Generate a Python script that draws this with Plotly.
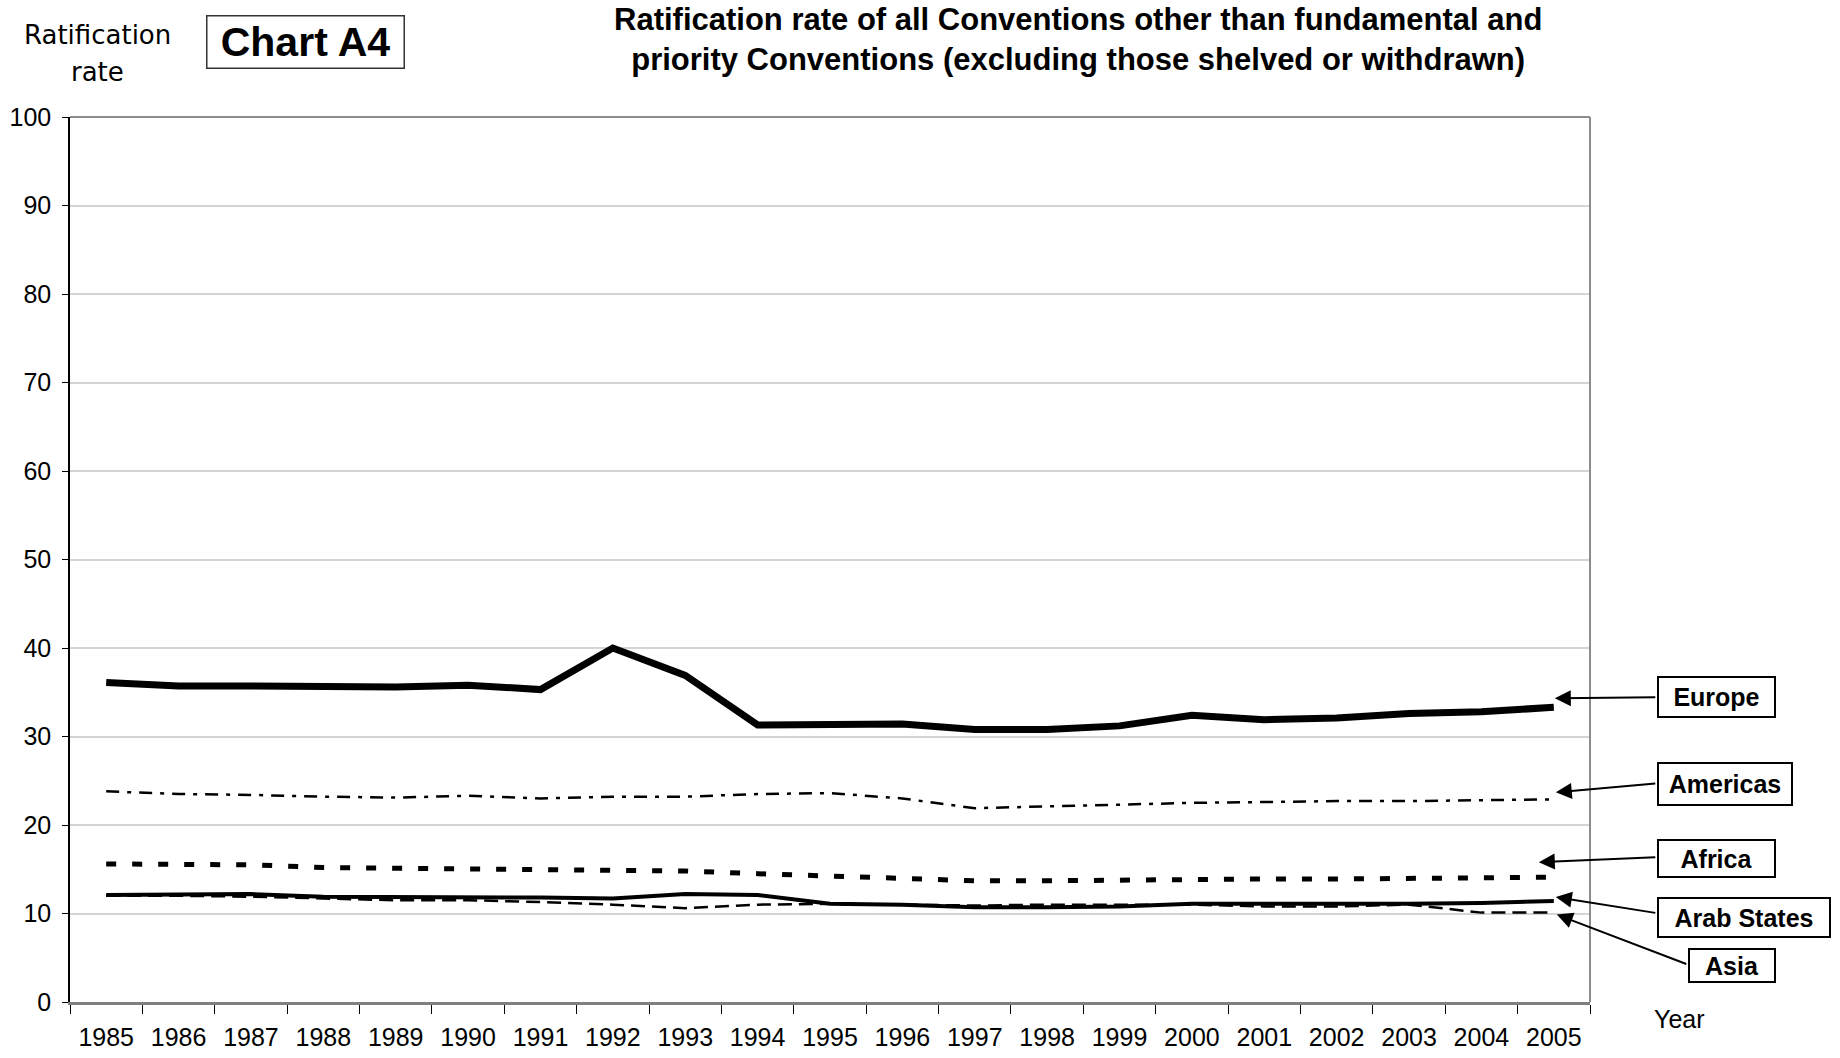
import plotly.graph_objects as go

# Ratification rate (%) by region, 1985-2005
years = list(range(1985, 2006))
europe = [36.1, 35.7, 35.7, 35.6, 35.6, 35.8, 35.3, 40.0, 36.9, 31.3, 31.3,
          31.4, 30.8, 30.8, 31.2, 32.4, 31.9, 32.1, 32.6, 32.8, 33.3]
americas = [23.8, 23.5, 23.4, 23.2, 23.1, 23.3, 23.0, 23.2, 23.2, 23.5, 23.6,
            23.0, 21.9, 22.1, 22.3, 22.5, 22.6, 22.7, 22.7, 22.8, 22.9]
africa = [15.6, 15.6, 15.5, 15.2, 15.1, 15.1, 14.9, 14.9, 14.8, 14.5, 14.2,
          13.9, 13.7, 13.7, 13.8, 13.9, 13.9, 13.9, 14.0, 14.0, 14.1]
arab_states = [12.1, 12.2, 12.2, 11.9, 11.9, 11.9, 11.8, 11.7, 12.2, 12.1, 11.1,
               11.0, 10.7, 10.7, 10.8, 11.1, 11.1, 11.0, 11.1, 11.2, 11.4]
asia = [12.0, 12.0, 11.9, 11.7, 11.5, 11.5, 11.3, 11.0, 10.6, 11.0, 11.1,
        11.0, 10.9, 11.0, 11.0, 11.0, 10.8, 10.8, 11.0, 10.1, 10.1]

y_ticks = list(range(0, 101, 10))

W, H = 1840, 1058
ML, MR, MT, MB = 70, 250, 117, 56
PW, PH = W - ML - MR, H - MT - MB

FONT = "Liberation Sans, Arial, sans-serif"


def paper(px, py):
    """Convert page pixel position to paper coordinates."""
    return (px - ML) / PW, (H - MB - py) / PH


series = [
    ("Europe", europe, dict(width=7, dash="solid")),
    ("Americas", americas, dict(width=2.5, dash="13px,8px,4px,8px")),
    ("Africa", africa, dict(width=5, dash="10px,16px")),
    ("Arab States", arab_states, dict(width=4, dash="solid")),
    ("Asia", asia, dict(width=2.5, dash="14px,7px")),
]

fig = go.Figure()
for name, vals, style in series:
    fig.add_trace(go.Scatter(
        x=years, y=vals, mode="lines", name=name, showlegend=False,
        line=dict(color="black", **style),
    ))

# label boxes on the right: (name, series values, head shift px, tail offset px, box centre, box size)
labels = [
    ("Europe", europe, (1, 9), (102, -1), (1716.5, 697), (119, 42)),
    ("Americas", americas, (2, 7), (101, -9), (1725, 784), (136, 44)),
    ("Africa", africa, (-15, 15), (118, -5), (1716.5, 858.5), (119, 39)),
    ("Arab States", arab_states, (2, 4), (101, 16), (1744, 917.5), (174, 41)),
    ("Asia", asia, (3, -2), (131, 50), (1732, 965.5), (88, 35)),
]

annotations = []
for name, vals, (xs, ys), (ax, ay), (cx, cy), (bw, bh) in labels:
    annotations.append(dict(
        x=years[-1], y=vals[-1], xref="x", yref="y", xshift=xs, yshift=ys,
        text="", showarrow=True, ax=ax, ay=ay, axref="pixel", ayref="pixel",
        arrowhead=2, arrowsize=1.6, arrowwidth=2, arrowcolor="black",
        standoff=0, startstandoff=0, font=dict(size=1),
    ))
    bx, by = paper(cx, cy)
    annotations.append(dict(
        x=bx, y=by, xref="paper", yref="paper", xanchor="center", yanchor="middle",
        text=f"<b>{name}</b>", showarrow=False, width=bw - 4, height=bh - 4,
        borderpad=0, bordercolor="black", borderwidth=2, bgcolor="white",
        font=dict(family=FONT, size=25, color="black"),
    ))

# chart heading
tx, ty = paper(1078, 39)
annotations.append(dict(
    x=tx, y=ty, xref="paper", yref="paper", xanchor="center", yanchor="middle",
    text="<b>Ratification rate of all Conventions other than fundamental and<br>"
         "priority Conventions (excluding those shelved or withdrawn)</b>",
    showarrow=False, font=dict(family=FONT, size=31, color="black"),
))

# "Chart A4" tag
cx, cy = paper(305.5, 42)
annotations.append(dict(
    x=cx, y=cy, xref="paper", yref="paper", xanchor="center", yanchor="middle",
    text="<b>Chart A4</b>", showarrow=False, width=196, height=51,
    borderpad=0, bordercolor="#333333", borderwidth=1.5, bgcolor="white",
    font=dict(family=FONT, size=41, color="black"),
))

# axis titles
for txt, (px, py) in [("Ratification", (97, 35)), ("rate", (97, 72))]:
    ax_, ay_ = paper(px, py)
    annotations.append(dict(
        x=ax_, y=ay_, xref="paper", yref="paper", xanchor="center", yanchor="middle",
        text=txt, showarrow=False,
        font=dict(family="DejaVu Sans, sans-serif", size=26, color="black"),
    ))
yx, yy = paper(1680, 1019)
annotations.append(dict(
    x=yx, y=yy, xref="paper", yref="paper", xanchor="center", yanchor="middle",
    text="Year", showarrow=False, font=dict(family=FONT, size=25, color="black"),
))

# top and right frame
shapes = [
    dict(type="line", xref="paper", yref="paper", x0=0, x1=1, y0=1, y1=1,
         line=dict(color="#8c8c8c", width=2)),
    dict(type="line", xref="paper", yref="paper", x0=1, x1=1, y0=0, y1=1,
         line=dict(color="#8c8c8c", width=2)),
]

fig.update_layout(
    width=W, height=H,
    margin=dict(l=ML, r=MR, t=MT, b=MB, autoexpand=False),
    paper_bgcolor="white", plot_bgcolor="white",
    font=dict(family=FONT, size=25, color="black"),
    annotations=annotations, shapes=shapes,
    xaxis=dict(
        range=[years[0] - 0.5, years[-1] + 0.5], tickmode="array",
        tickvals=years, ticktext=[str(y) for y in years], ticks="",
        showgrid=False, zeroline=False, showline=True,
        linecolor="#7f7f7f", linewidth=3, ticklabelstandoff=11,
        tickfont=dict(family=FONT, size=25, color="black"),
        minor=dict(tickmode="array", tickvals=[y - 0.5 for y in years] + [years[-1] + 0.5],
                   ticks="outside", ticklen=9, tickwidth=1, tickcolor="black",
                   showgrid=False),
    ),
    yaxis=dict(
        range=[0, 100], tickmode="array", tickvals=y_ticks,
        ticks="outside", ticklen=6, tickwidth=1, tickcolor="black",
        showgrid=True, gridcolor="#d4d4d4", gridwidth=1.5,
        zeroline=False, showline=True, linecolor="black", linewidth=1.5,
        ticklabelstandoff=6,
        tickfont=dict(family=FONT, size=25, color="black"),
    ),
)

fig.write_html("out.html")
